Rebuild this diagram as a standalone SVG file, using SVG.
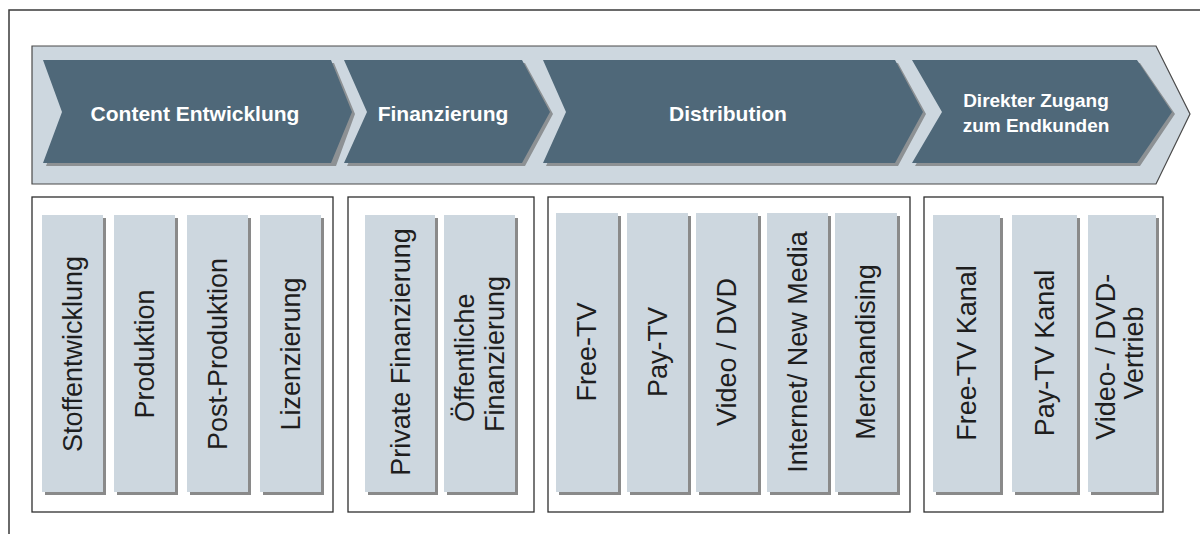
<svg xmlns="http://www.w3.org/2000/svg" width="1200" height="534" viewBox="0 0 1200 534">
  <defs>
    <style>
      .frame { fill: #ffffff; stroke: #3a3a3a; stroke-width: 1.5; }
      .band { fill: #cdd7df; stroke: #4a4a4a; stroke-width: 1.2; }
      .chev { fill: #4f6879; }
      .chev-shadow { fill: #8d9194; }
      .head { font-family: "Liberation Sans", Arial, sans-serif; font-weight: bold; font-size: 21px; fill: #ffffff; text-anchor: middle; }
      .head2 { font-family: "Liberation Sans", Arial, sans-serif; font-weight: bold; font-size: 19px; fill: #ffffff; text-anchor: middle; }
      .box { fill: #ffffff; stroke: #2e2e2e; stroke-width: 1.3; }
      .card { fill: #cdd7df; }
      .card-shadow { fill: #8a8a8a; }
      .lbl { font-family: "Liberation Sans", Arial, sans-serif; font-size: 27px; fill: #1e1e1e; text-anchor: middle; }
    </style>
  </defs>

  <rect width="1200" height="534" fill="#ffffff"/>
  <!-- page frame (continues beyond the right and bottom edges) -->
  <rect class="frame" x="9" y="10" width="1220" height="560"/>

  <!-- value chain band -->
  <g id="band">
    <polygon class="band" points="32,46 1156,46 1190,114 1156,184 32,184"/>
  </g>

  <g id="stage-content">
    <polygon class="chev-shadow" points="46,63 334,63 355,114 336,166 46,166 65,114"/>
    <polygon class="chev" points="43,60 331,60 352,112 331,163 43,163 62,112"/>
    <text class="head" x="195" y="121">Content Entwicklung</text>
  </g>

  <g id="stage-finance">
    <polygon class="chev-shadow" points="347,63 525,63 553,114 525,166 347,166 370,114"/>
    <polygon class="chev" points="344,60 522,60 550,112 522,163 344,163 367,112"/>
    <text class="head" x="443" y="121">Finanzierung</text>
  </g>

  <g id="stage-distribution">
    <polygon class="chev-shadow" points="546,63 898,63 926,114 898,166 546,166 569,114"/>
    <polygon class="chev" points="543,60 895,60 923,112 895,163 543,163 566,112"/>
    <text class="head" x="728" y="121">Distribution</text>
  </g>

  <g id="stage-direct">
    <polygon class="chev-shadow" points="915,63 1140,63 1175,114 1140,166 915,166 945,114"/>
    <polygon class="chev" points="912,60 1137,60 1172,112 1137,163 912,163 942,112"/>
    <text class="head2" x="1036" y="107">Direkter Zugang</text>
    <text class="head2" x="1036" y="132">zum Endkunden</text>
  </g>

  <!-- Content Entwicklung -->
  <g id="group-content">
    <rect class="box" x="32" y="197" width="301" height="315"/>
    <g id="card-stoffentwicklung">
      <rect class="card-shadow" x="45" y="218" width="61" height="277"/>
      <rect class="card" x="42" y="215" width="61" height="277"/>
      <text class="lbl" transform="translate(72.5,354) rotate(-90)" y="9.5">Stoffentwicklung</text>
    </g>
    <g id="card-produktion">
      <rect class="card-shadow" x="117" y="218" width="61" height="277"/>
      <rect class="card" x="114" y="215" width="61" height="277"/>
      <text class="lbl" transform="translate(144.5,354) rotate(-90)" y="9.5">Produktion</text>
    </g>
    <g id="card-postproduktion">
      <rect class="card-shadow" x="190" y="218" width="61" height="277"/>
      <rect class="card" x="187" y="215" width="61" height="277"/>
      <text class="lbl" transform="translate(217.5,354) rotate(-90)" y="9.5">Post-Produktion</text>
    </g>
    <g id="card-lizenzierung">
      <rect class="card-shadow" x="263" y="218" width="61" height="277"/>
      <rect class="card" x="260" y="215" width="61" height="277"/>
      <text class="lbl" transform="translate(290.5,354) rotate(-90)" y="9.5">Lizenzierung</text>
    </g>
  </g>

  <!-- Finanzierung -->
  <g id="group-finance">
    <rect class="box" x="348" y="197" width="186" height="315"/>
    <g id="card-private">
      <rect class="card-shadow" x="368" y="218" width="70" height="277"/>
      <rect class="card" x="365" y="215" width="70" height="277"/>
      <text class="lbl" transform="translate(400,352) rotate(-90)" y="9.5">Private Finanzierung</text>
    </g>
    <g id="card-oeffentlich">
      <rect class="card-shadow" x="447" y="218" width="71" height="277"/>
      <rect class="card" x="444" y="215" width="71" height="277"/>
      <text class="lbl" transform="translate(479.5,354) rotate(-90)">
        <tspan x="0" y="-6">Öffentliche</tspan>
        <tspan x="0" y="24">Finanzierung</tspan>
      </text>
    </g>
  </g>

  <!-- Distribution -->
  <g id="group-distribution">
    <rect class="box" x="548" y="197" width="362" height="315"/>
    <g id="card-freetv">
      <rect class="card-shadow" x="559" y="216" width="62" height="279"/>
      <rect class="card" x="556" y="213" width="62" height="279"/>
      <text class="lbl" transform="translate(587,352) rotate(-90)" y="9">Free-TV</text>
    </g>
    <g id="card-paytv">
      <rect class="card-shadow" x="630" y="216" width="61" height="279"/>
      <rect class="card" x="627" y="213" width="61" height="279"/>
      <text class="lbl" transform="translate(657.5,352) rotate(-90)" y="9">Pay-TV</text>
    </g>
    <g id="card-video">
      <rect class="card-shadow" x="699" y="216" width="62" height="279"/>
      <rect class="card" x="696" y="213" width="62" height="279"/>
      <text class="lbl" transform="translate(727,352) rotate(-90)" y="9">Video / DVD</text>
    </g>
    <g id="card-internet">
      <rect class="card-shadow" x="770" y="216" width="61" height="279"/>
      <rect class="card" x="767" y="213" width="61" height="279"/>
      <text class="lbl" transform="translate(797.5,352) rotate(-90)" y="9">Internet/ New Media</text>
    </g>
    <g id="card-merchandising">
      <rect class="card-shadow" x="838" y="216" width="62" height="279"/>
      <rect class="card" x="835" y="213" width="62" height="279"/>
      <text class="lbl" transform="translate(866,352) rotate(-90)" y="9">Merchandising</text>
    </g>
  </g>

  <!-- Direkter Zugang zum Endkunden -->
  <g id="group-direct">
    <rect class="box" x="924" y="197" width="239" height="315"/>
    <g id="card-freetv-kanal">
      <rect class="card-shadow" x="936" y="218" width="67" height="277"/>
      <rect class="card" x="933" y="215" width="67" height="277"/>
      <text class="lbl" transform="translate(966.5,353) rotate(-90)" y="9.5">Free-TV Kanal</text>
    </g>
    <g id="card-paytv-kanal">
      <rect class="card-shadow" x="1015" y="218" width="65" height="277"/>
      <rect class="card" x="1012" y="215" width="65" height="277"/>
      <text class="lbl" transform="translate(1044.5,353) rotate(-90)" y="9.5">Pay-TV Kanal</text>
    </g>
    <g id="card-video-vertrieb">
      <rect class="card-shadow" x="1091" y="218" width="68" height="277"/>
      <rect class="card" x="1088" y="215" width="68" height="277"/>
      <text class="lbl" transform="translate(1122,353) rotate(-90)">
        <tspan x="0" y="-7">Video- / DVD-</tspan>
        <tspan x="0" y="21">Vertrieb</tspan>
      </text>
    </g>
  </g>
</svg>
